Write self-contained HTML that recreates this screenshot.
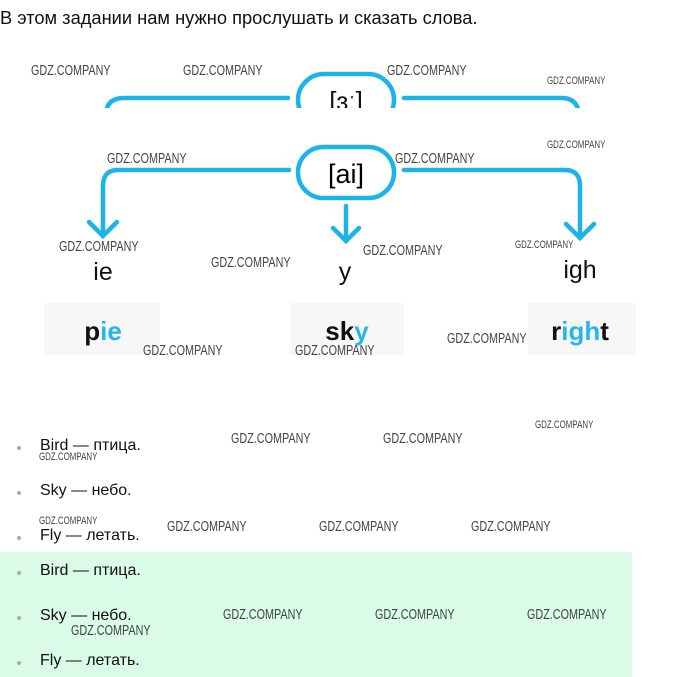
<!DOCTYPE html>
<html><head><meta charset="utf-8"><style>
body{margin:0;width:680px;height:677px;background:#fff;position:relative;overflow:hidden;font-family:"Liberation Sans",sans-serif;color:#111}
.a{position:absolute;white-space:nowrap}
.w{position:absolute;font-family:"Liberation Sans Narrow","Liberation Sans",sans-serif;font-size:15px;color:#444;transform:scaleX(.72);transform-origin:left top;white-space:nowrap}
.ws{font-size:11px}
.box{position:absolute;background:#f7f7f7}
.big{position:absolute;font-size:26px;font-weight:bold;transform:translateX(-50%);white-space:nowrap}
.li{position:absolute;left:40px;font-size:16px}
.dot{position:absolute;left:17px;width:4px;height:4px;border-radius:50%;background:#aaa}
b.c{color:#22b8ea;font-weight:bold}
</style></head><body>
<div class="a" style="left:0;top:7px;font-size:18.3px">В этом задании нам нужно прослушать и сказать слова.</div>
<div class="box" style="left:44px;top:303px;width:116px;height:52px"></div>
<div class="box" style="left:290px;top:303px;width:114px;height:52px"></div>
<div class="box" style="left:528px;top:303px;width:108px;height:52px"></div>
<svg class="a" style="left:0;top:0" width="680" height="380">
<defs><clipPath id="cp"><rect x="0" y="0" width="680" height="108"/></clipPath></defs>
<g fill="none" stroke="#1cb4e8" stroke-width="4.5" stroke-linecap="round">
<g clip-path="url(#cp)">
<rect x="298" y="74" width="96" height="52" rx="26"/>
<text x="346" y="110" font-size="26" text-anchor="middle" fill="#111" stroke="none" font-family="Liberation Sans">[ɜː]</text>
<path d="M288 98 H124 Q108 98 106 112"/>
<path d="M404 98 H562 Q576 98 579 112"/>
</g>
<rect x="298" y="147" width="96" height="51" rx="25.5"/>
<path d="M289 170 H118 Q103 170 103 186 V236"/>
<path d="M89 222 L103 236 L117 222"/>
<path d="M404 170 H565 Q580 170 580 186 V238"/>
<path d="M566 224 L580 238 L594 224"/>
<path d="M346 206 V241"/>
<path d="M333 228 L346 241 L359 228"/>
</g>
<text x="346" y="183" font-size="27" text-anchor="middle" font-family="Liberation Sans">[ai]</text>
</svg>
<div class="big" style="left:103px;top:258px;font-weight:normal;font-size:25px">ie</div>
<div class="big" style="left:345px;top:258px;font-weight:normal;font-size:25px">y</div>
<div class="big" style="left:580px;top:256px;font-weight:normal;font-size:25px">igh</div>
<div class="big" style="left:103px;top:316px">p<b class="c">ie</b></div>
<div class="big" style="left:347px;top:316px">sk<b class="c">y</b></div>
<div class="big" style="left:580px;top:316px">r<b class="c">igh</b>t</div>
<div class="a" style="left:0;top:552px;width:632px;height:125px;background:#d9fbe8"></div>
<div class="dot" style="top:446px"></div><div class="li" style="top:437px">Bird — птица.</div>
<div class="dot" style="top:491px"></div><div class="li" style="top:482px">Sky — небо.</div>
<div class="dot" style="top:536px"></div><div class="li" style="top:527px">Fly — летать.</div>
<div class="dot" style="top:571px"></div><div class="li" style="top:562px">Bird — птица.</div>
<div class="dot" style="top:616px"></div><div class="li" style="top:607px">Sky — небо.</div>
<div class="dot" style="top:661px"></div><div class="li" style="top:652px">Fly — летать.</div>
<div class="w" style="left:31px;top:62px">GDZ.COMPANY</div>
<div class="w" style="left:183px;top:62px">GDZ.COMPANY</div>
<div class="w" style="left:387px;top:62px">GDZ.COMPANY</div>
<div class="w ws" style="left:547px;top:75px">GDZ.COMPANY</div>
<div class="w ws" style="left:547px;top:139px">GDZ.COMPANY</div>
<div class="w" style="left:107px;top:150px">GDZ.COMPANY</div>
<div class="w" style="left:395px;top:150px">GDZ.COMPANY</div>
<div class="w" style="left:59px;top:238px">GDZ.COMPANY</div>
<div class="w" style="left:211px;top:254px">GDZ.COMPANY</div>
<div class="w" style="left:363px;top:242px">GDZ.COMPANY</div>
<div class="w ws" style="left:515px;top:239px">GDZ.COMPANY</div>
<div class="w" style="left:143px;top:342px">GDZ.COMPANY</div>
<div class="w" style="left:295px;top:342px">GDZ.COMPANY</div>
<div class="w" style="left:447px;top:330px">GDZ.COMPANY</div>
<div class="w" style="left:231px;top:430px">GDZ.COMPANY</div>
<div class="w" style="left:383px;top:430px">GDZ.COMPANY</div>
<div class="w ws" style="left:535px;top:419px">GDZ.COMPANY</div>
<div class="w ws" style="left:39px;top:451px">GDZ.COMPANY</div>
<div class="w ws" style="left:39px;top:515px">GDZ.COMPANY</div>
<div class="w" style="left:167px;top:518px">GDZ.COMPANY</div>
<div class="w" style="left:319px;top:518px">GDZ.COMPANY</div>
<div class="w" style="left:471px;top:518px">GDZ.COMPANY</div>
<div class="w" style="left:223px;top:606px">GDZ.COMPANY</div>
<div class="w" style="left:375px;top:606px">GDZ.COMPANY</div>
<div class="w" style="left:527px;top:606px">GDZ.COMPANY</div>
<div class="w" style="left:71px;top:622px">GDZ.COMPANY</div>
</body></html>
